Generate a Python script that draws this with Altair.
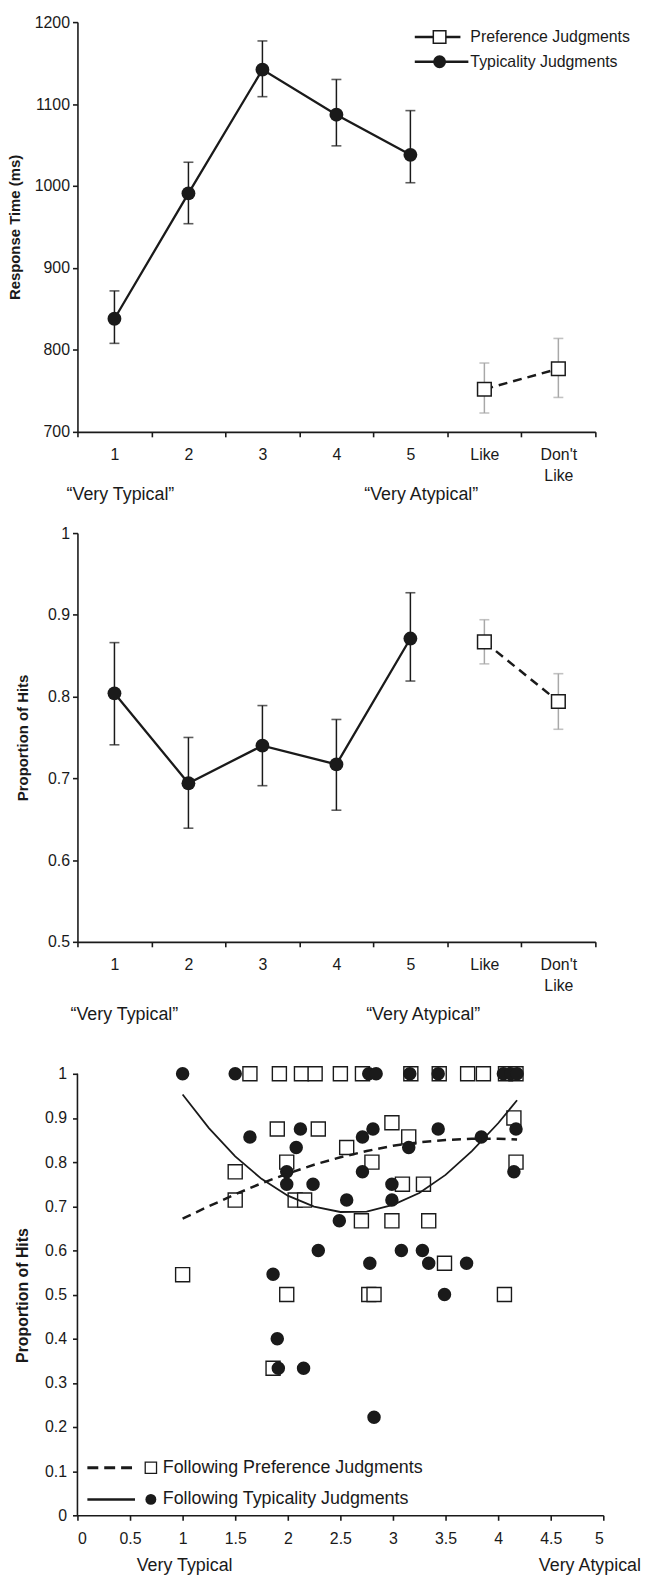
import altair as alt
import pandas as pd

FONT = "Liberation Sans, Arial, Helvetica, sans-serif"
INK = "#1a1a1a"
GRAY = "#a8a8a8"

# ---------------- data ----------------
categories = ["1", "2", "3", "4", "5", "Like", "Don't Like"]
typ_cats = ["1", "2", "3", "4", "5"]
pref_cats = ["Like", "Don't Like"]

# Panel 1: response time (ms)
rt_typ_mean = [838, 991, 1142, 1087, 1038]
rt_typ_lo = [808, 954, 1109, 1049, 1004]
rt_typ_hi = [872, 1029, 1177, 1130, 1092]
rt_pref_mean = [752, 777]
rt_pref_lo = [723, 742]
rt_pref_hi = [784, 814]
rt_ticks = [700, 800, 900, 1000, 1100, 1200]

# Panel 2: proportion of hits
hit_typ_mean = [0.804, 0.694, 0.740, 0.717, 0.871]
hit_typ_lo = [0.741, 0.639, 0.691, 0.661, 0.819]
hit_typ_hi = [0.866, 0.750, 0.789, 0.772, 0.927]
hit_pref_mean = [0.867, 0.794]
hit_pref_lo = [0.840, 0.760]
hit_pref_hi = [0.894, 0.828]
hit_ticks = [0.5, 0.6, 0.7, 0.8, 0.9, 1.0]

# Panel 3: scatter (items)
pref_x = [1.64, 1.92, 2.13, 2.26, 2.50, 2.71, 3.17, 3.44, 3.71, 3.86, 4.07, 4.17,
          4.15, 1.90, 2.29, 2.99, 3.15, 2.56, 2.80, 1.99, 4.17, 1.50, 3.09, 3.29,
          1.50, 2.07, 2.16, 2.70, 2.99, 3.34, 3.49, 1.00, 1.99, 2.77, 2.82, 4.06, 1.86]
pref_y = [1, 1, 1, 1, 1, 1, 1, 1, 1, 1, 1, 1,
          0.900, 0.875, 0.875, 0.889, 0.857, 0.833, 0.800, 0.800, 0.800, 0.778, 0.750, 0.750,
          0.714, 0.714, 0.714, 0.667, 0.667, 0.667, 0.571, 0.545, 0.500, 0.500, 0.500, 0.500, 0.333]
typ_x = [1.00, 1.50, 2.77, 2.84, 3.16, 3.43, 4.05, 4.12, 4.18,
         1.64, 2.12, 2.08, 2.71, 2.81, 3.43, 3.15, 3.84, 4.17, 4.15, 1.99, 1.99, 2.24,
         2.71, 2.99, 2.56, 2.99, 2.49, 2.29, 3.08, 3.28, 2.78, 3.34, 3.70, 1.86, 3.49,
         1.90, 1.91, 2.15, 2.82]
typ_y = [1, 1, 1, 1, 1, 1, 1, 1, 1,
         0.857, 0.875, 0.833, 0.857, 0.875, 0.875, 0.833, 0.857, 0.875, 0.778, 0.778, 0.750, 0.750,
         0.778, 0.750, 0.714, 0.714, 0.667, 0.600, 0.600, 0.600, 0.571, 0.571, 0.571, 0.546, 0.500,
         0.400, 0.333, 0.333, 0.222]

# fitted trend lines
fit_x = [1.0, 1.25, 1.5, 1.75, 2.0, 2.25, 2.5, 2.75, 3.0, 3.25, 3.5, 3.75, 4.0, 4.18]
fit_pref_y = [0.672, 0.700, 0.727, 0.752, 0.774, 0.794, 0.811, 0.825, 0.837, 0.845, 0.850, 0.853, 0.853, 0.851]
fit_typ_y = [0.953, 0.877, 0.813, 0.762, 0.724, 0.699, 0.687, 0.688, 0.703, 0.730, 0.771, 0.825, 0.888, 0.940]

x3_ticks = [0, 0.5, 1, 1.5, 2, 2.5, 3, 3.5, 4, 4.5, 5]
y3_ticks = [0, 0.1, 0.2, 0.3, 0.4, 0.5, 0.6, 0.7, 0.8, 0.9, 1.0]

one = pd.DataFrame({"k": [0]})


def txt(text, x, y, size=18, align="left", weight="normal"):
    return alt.Chart(one).mark_text(
        text=text, align=align, baseline="middle", font=FONT, fontSize=size,
        color=INK, fontWeight=weight
    ).encode(x=alt.value(x), y=alt.value(y))


def summary_panel(tm, tl, th, pm, pl, ph, ydom, yvals, yfmt, ytitle, title_x, W, H,
                  legend, vt_pos):
    typ = pd.DataFrame({"cat": typ_cats, "mean": tm, "lo": tl, "hi": th})
    pref = pd.DataFrame({"cat": pref_cats, "mean": pm, "lo": pl, "hi": ph})

    xenc = alt.X(
        "cat:N",
        scale=alt.Scale(domain=categories, paddingInner=0, paddingOuter=0),
        axis=alt.Axis(
            title=None, labelAngle=0, tickBand="extent", labelPadding=10,
            labelLineHeight=21,
            labelExpr='datum.value == "Don\'t Like" ? ["Don\'t", "Like"] : datum.label',
        ),
    )

    def yenc(f):
        return alt.Y(
            f"{f}:Q",
            scale=alt.Scale(domain=ydom, nice=False, zero=False),
            axis=alt.Axis(
                values=yvals, format=yfmt, title=ytitle, titleX=title_x,
                titleY=H / 2, titleAngle=-90, titleBaseline="middle",
                titleFontSize=15, titleFontWeight="bold", labelPadding=3,
            ),
        )

    bt = alt.Chart(typ)
    bp = alt.Chart(pref)
    layers = [
        bt.mark_rule(color=INK, strokeWidth=1.5).encode(x=xenc, y=yenc("lo"), y2="hi:Q"),
        bt.mark_tick(color=INK, size=10, thickness=1.6).encode(x=xenc, y=yenc("lo")),
        bt.mark_tick(color=INK, size=10, thickness=1.6).encode(x=xenc, y=yenc("hi")),
        bp.mark_rule(color=GRAY, strokeWidth=1.5).encode(x=xenc, y=yenc("lo"), y2="hi:Q"),
        bp.mark_tick(color=GRAY, size=10, thickness=1.6).encode(x=xenc, y=yenc("lo")),
        bp.mark_tick(color=GRAY, size=10, thickness=1.6).encode(x=xenc, y=yenc("hi")),
        bt.mark_line(color=INK, strokeWidth=2.3).encode(x=xenc, y=yenc("mean")),
        bp.mark_line(color=INK, strokeWidth=2.5, strokeDash=[9, 6]).encode(x=xenc, y=yenc("mean")),
        bt.mark_point(shape="circle", filled=True, color=INK, size=195, opacity=1).encode(
            x=xenc, y=yenc("mean")),
        bp.mark_point(shape="square", filled=True, fill="white", stroke=INK,
                      strokeWidth=1.5, size=190, opacity=1).encode(x=xenc, y=yenc("mean")),
    ]
    if legend:
        layers += [
            alt.Chart(one).mark_rule(color=INK, strokeWidth=2.5).encode(
                x=alt.value(340), x2=alt.value(386), y=alt.value(15)),
            alt.Chart(one).mark_point(shape="square", filled=True, fill="white", stroke=INK,
                                      strokeWidth=1.5, size=160, opacity=1).encode(
                x=alt.value(365), y=alt.value(15)),
            txt("Preference Judgments", 396, 15, size=16),
            alt.Chart(one).mark_rule(color=INK, strokeWidth=2.5).encode(
                x=alt.value(340), x2=alt.value(394), y=alt.value(40)),
            alt.Chart(one).mark_point(shape="circle", filled=True, color=INK, size=170,
                                      opacity=1).encode(x=alt.value(365), y=alt.value(40)),
            txt("Typicality Judgments", 396, 40, size=16),
        ]
    (lx, rx, vy) = vt_pos
    layers += [
        txt("\u201cVery Typical\u201d", lx, vy),
        txt("\u201cVery Atypical\u201d", rx, vy),
    ]
    return alt.layer(*layers).properties(width=W, height=H)


p1 = summary_panel(rt_typ_mean, rt_typ_lo, rt_typ_hi, rt_pref_mean, rt_pref_lo, rt_pref_hi,
                   [700, 1200], rt_ticks, "d", "Response Time (ms)", -63, 522, 413,
                   True, (-11, 289, 477))
p2 = summary_panel(hit_typ_mean, hit_typ_lo, hit_typ_hi, hit_pref_mean, hit_pref_lo, hit_pref_hi,
                   [0.5, 1.0], hit_ticks, "~g", "Proportion of Hits", -55, 522, 412,
                   False, (-7, 291, 486))

# ---------------- panel 3 ----------------
W3, H3 = 530, 476
Y3TOP = 1 + 31 / 445

x3 = alt.X("x:Q", scale=alt.Scale(domain=[0, 5], nice=False),
           axis=alt.Axis(values=x3_ticks, format="~g", title=None, labelPadding=10))


def y3(f):
    return alt.Y(f"{f}:Q", scale=alt.Scale(domain=[0, Y3TOP], nice=False, zero=False),
                 axis=alt.Axis(values=y3_ticks, format="~g", domain=False,
                               title="Proportion of Hits", titleX=-55, titleY=254,
                               titleAngle=-90, titleBaseline="middle", titleFontSize=16,
                               titleFontWeight="bold", labelPadding=6))


pref_pts = pd.DataFrame({"x": pref_x, "y": pref_y})
typ_pts = pd.DataFrame({"x": typ_x, "y": typ_y})
fit_pref = pd.DataFrame({"x": fit_x, "y": fit_pref_y})
fit_typ = pd.DataFrame({"x": fit_x, "y": fit_typ_y})
axis_line = pd.DataFrame({"lo": [0], "hi": [1]})

p3_layers = [
    alt.Chart(axis_line).mark_rule(color=INK, strokeWidth=1.6).encode(
        x=alt.value(0), y=y3("lo"), y2="hi:Q"),
    alt.Chart(pref_pts).mark_point(shape="square", filled=True, fill="white", stroke=INK,
                                   strokeWidth=1.4, size=200, opacity=1).encode(x=x3, y=y3("y")),
    alt.Chart(typ_pts).mark_point(shape="circle", filled=True, color=INK, size=185,
                                  opacity=1).encode(x=x3, y=y3("y")),
    alt.Chart(fit_pref).mark_line(color=INK, strokeWidth=2.5, strokeDash=[9, 6]).encode(
        x=x3, y=y3("y")),
    alt.Chart(fit_typ).mark_line(color=INK, strokeWidth=1.8).encode(x=x3, y=y3("y")),
    # legend
    alt.Chart(one).mark_rule(color=INK, strokeWidth=3, strokeDash=[11, 6]).encode(
        x=alt.value(10), x2=alt.value(58), y=alt.value(428)),
    alt.Chart(one).mark_point(shape="square", filled=True, fill="white", stroke=INK,
                              strokeWidth=1.3, size=130, opacity=1).encode(
        x=alt.value(74), y=alt.value(428)),
    txt("Following Preference Judgments", 86, 428),
    alt.Chart(one).mark_rule(color=INK, strokeWidth=2.5).encode(
        x=alt.value(10), x2=alt.value(58), y=alt.value(460)),
    alt.Chart(one).mark_point(shape="circle", filled=True, color=INK, size=120,
                              opacity=1).encode(x=alt.value(74), y=alt.value(460)),
    txt("Following Typicality Judgments", 86, 460),
    txt("Very Typical", 108, 527, align="center"),
    txt("Very Atypical", 568, 527, align="right"),
]
p3 = alt.layer(*p3_layers).properties(width=W3, height=H3)

chart = (
    alt.vconcat(p1, p2, p3, spacing=102, bounds="flush")
    .properties(padding=0, background="white")
    .configure_view(stroke=None)
    .configure_axis(
        domainColor=INK, domainWidth=1.6, tickColor=INK, tickWidth=1.6, tickSize=5,
        labelFont=FONT, labelFontSize=16, labelColor=INK, titleFont=FONT,
        titleColor=INK, grid=False,
    )
)

chart.save("out.html", embed_options={"renderer": "svg", "actions": False})
